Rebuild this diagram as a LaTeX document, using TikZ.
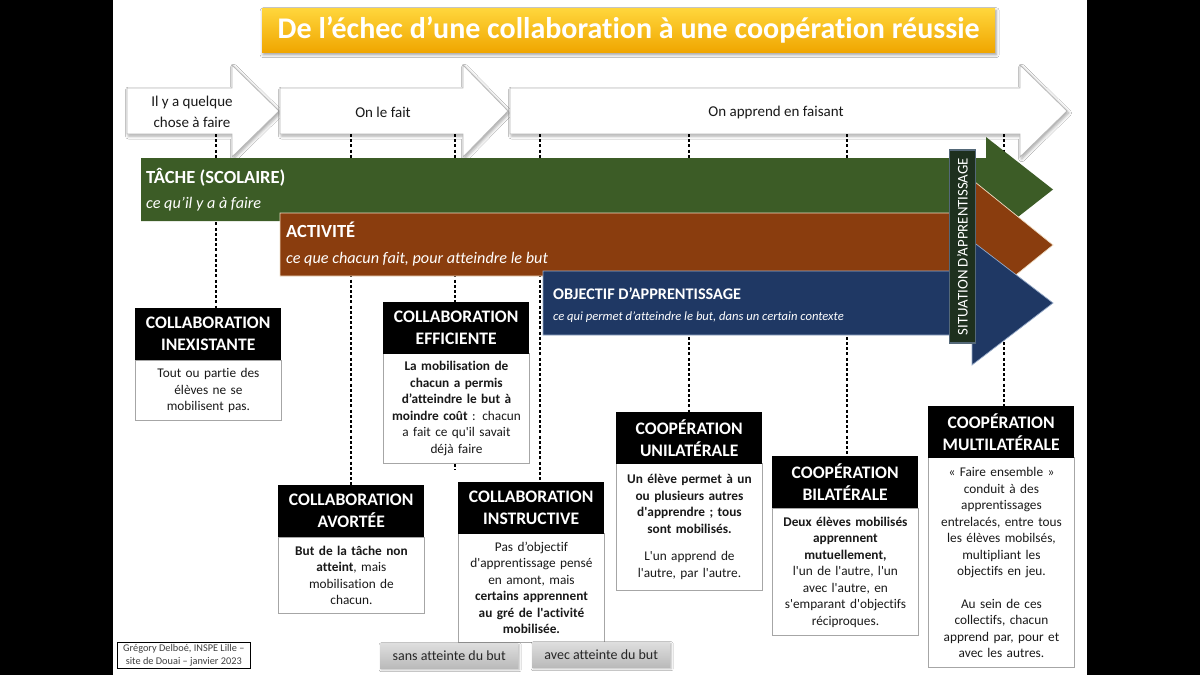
\documentclass[tikz,border=0pt]{standalone}
\usepackage{fontspec}
\setmainfont{Carlito}[Ligatures={TeX,NoCommon}]
\usetikzlibrary{shadows.blur}
\newcommand{\sq}{\textquotesingle}
\definecolor{tgreen}{RGB}{60,92,38}
\definecolor{tbrown}{RGB}{138,61,14}
\definecolor{tblue}{RGB}{31,56,100}
\definecolor{brownedge}{RGB}{240,222,196}
\definecolor{blueedge}{RGB}{150,170,200}
\definecolor{sitfill}{RGB}{30,48,30}
\definecolor{sitedge}{RGB}{84,104,120}
\definecolor{goldtop}{RGB}{255,214,60}
\definecolor{goldbot}{RGB}{240,166,0}
\definecolor{bodytext}{RGB}{25,25,25}
\tikzset{
  whitearrow/.style={fill=white, draw=black!28, line width=0.8pt,
    blur shadow={shadow xshift=1.5pt, shadow yshift=-2pt, shadow blur radius=3pt, shadow opacity=35}},
  arrowtext/.style={font=\fontsize{15}{21}\selectfont, align=center, text=black!90, inner sep=0},
  dashline/.style={draw=black, line width=1.1pt, dash pattern=on 3pt off 2.2pt},
  bartitle/.style={anchor=base west, inner sep=0, text=white, font=\bfseries\fontsize{18.5}{21}\selectfont},
  barsub/.style={anchor=base west, inner sep=0, text=white, font=\itshape\fontsize{16.2}{19}\selectfont},
  hdr/.style={anchor=north west, fill=black, text=white, font=\bfseries\fontsize{17.6}{22}\selectfont,
    align=center, minimum width=146, minimum height=52, inner sep=0},
  bodybox/.style={anchor=north west, fill=white, draw=black!35, line width=0.9pt, text=bodytext,
    font=\fontsize{13.3}{16.5}\selectfont, align=center, minimum width=146, text width=144, inner sep=0},
  graylab/.style={anchor=north west, minimum width=138, minimum height=25, inner sep=0,
    top color=black!13, bottom color=black!27, font=\fontsize{14}{16}\selectfont, text=black!85,
    blur shadow={shadow xshift=1pt, shadow yshift=-1.5pt, shadow opacity=30, shadow blur radius=2pt}}
}
\begin{document}
\begin{tikzpicture}[x=1pt,y=-1pt]
\useasboundingbox (0,0) rectangle (1200,675);
\fill[black] (0,0) rectangle (1200,675);
\fill[white] (113,0) rectangle (1087,675);

% title
\node[anchor=north west, top color=goldtop, bottom color=goldbot, minimum width=733, minimum height=44,
  inner sep=0, text=white, font=\bfseries\fontsize{30}{32}\selectfont,
  blur shadow={shadow xshift=1pt, shadow yshift=-2.5pt, shadow opacity=40, shadow blur radius=3pt}]
  (title) at (262,8) {De l’échec d’une collaboration à une coopération réussie};

% white phase arrows
\path[whitearrow] (127,88) -- (232,88) -- (232,65) -- (279,111) -- (232,157) -- (232,134) -- (127,134) -- cycle;
\path[whitearrow] (280,88) -- (463,88) -- (463,65) -- (508,111) -- (463,157) -- (463,134) -- (280,134) -- cycle;
\path[whitearrow] (510,88) -- (1020,88) -- (1020,65) -- (1067,111) -- (1020,157) -- (1020,134) -- (510,134) -- cycle;
\node[arrowtext] (a1t) at (192,112) {Il y a quelque\\chose à faire};
\node[arrowtext] (a2t) at (383,112) {On le fait};
\node[arrowtext] (a3t) at (776,112) {On apprend en faisant};

% boxes
\node[bodybox, minimum height=60] (inexB) at (135,360) {Tout ou partie des\\élèves ne se\\mobilisent pas.};
\node[hdr] (inexH) at (135,308) {COLLABORATION\\INEXISTANTE};

\node[bodybox, minimum height=110] (effiB) at (383,353) {\textbf{La mobilisation de}\\\textbf{chacun a permis}\\\textbf{d’atteindre le but à}\\\textbf{moindre coût} : chacun\\a fait ce qu\sq il savait\\déjà faire};
\node[hdr] (effiH) at (383,302) {COLLABORATION\\EFFICIENTE};

\node[bodybox, minimum height=76] (avorB) at (278,537) {\textbf{But de la tâche non}\\\textbf{atteint}, mais\\mobilisation de\\chacun.};
\node[hdr] (avorH) at (278,485) {COLLABORATION\\AVORTÉE};

\node[bodybox, minimum height=109] (instrB) at (458,533) {Pas d’objectif\\d\sq apprentissage pensé\\en amont, mais\\\textbf{certains apprennent}\\\textbf{au gré de l\sq activité}\\\textbf{mobilisée.}};
\node[hdr] (instrH) at (458,482) {COLLABORATION\\INSTRUCTIVE};

\node[bodybox, minimum height=127] (uniB) at (616,463) {\textbf{Un élève permet à un}\\\textbf{ou plusieurs autres}\\\textbf{d\sq apprendre ; tous}\\\textbf{sont mobilisés.}\\[11pt]L\sq un apprend de\\l\sq autre, par l\sq autre.};
\node[hdr] (uniH) at (616,412) {COOPÉRATION\\UNILATÉRALE};

\node[bodybox, minimum height=127] (biB) at (772,508) {\textbf{Deux élèves mobilisés}\\\textbf{apprennent}\\\textbf{mutuellement,}\\l\sq un de l\sq autre, l\sq un\\avec l\sq autre, en\\s\sq emparant d\sq objectifs\\réciproques.};
\node[hdr] (biH) at (772,456) {COOPÉRATION\\BILATÉRALE};

\node[bodybox, minimum height=210] (multiB) at (928,457) {« Faire ensemble »\\conduit à des\\apprentissages\\entrelacés, entre tous\\les élèves mobilsés,\\multipliant les\\objectifs en jeu.\\[16pt]Au sein de ces\\collectifs, chacun\\apprend par, pour et\\avec les autres.};
\node[hdr] (multiH) at (928,406) {COOPÉRATION\\MULTILATÉRALE};

% dashed connectors
\coordinate (c1) at (216,134);
\coordinate (c2) at (351,134);
\coordinate (c3) at (455,134);
\coordinate (c3e) at (455,470);
\coordinate (c4) at (540,134);
\coordinate (c5) at (689,134);
\coordinate (c6) at (847,134);
\coordinate (c7) at (1004,134);
\draw[dashline] (c1) -- (c1 |- inexH.north);
\draw[dashline] (c2) -- (c2 |- avorH.north);
\draw[dashline] (c3) -- (c3 |- effiH.north);
\draw[dashline] (c3 |- effiB.south) -- (c3e);
\draw[dashline] (c4) -- (c4 |- instrH.north);
\draw[dashline] (c5) -- (c5 |- uniH.north);
\draw[dashline] (c6) -- (c6 |- biH.north);
\draw[dashline] (c7) -- (c7 |- multiH.north);

% bars
\fill[tgreen] (141,158) -- (986,158) -- (986,137) -- (1053,189.5) -- (986,242) -- (986,221) -- (141,221) -- cycle;
\path[fill=tbrown, draw=brownedge, line width=0.7pt] (280,213) -- (975,213) -- (975,182) -- (1053,245) -- (975,308) -- (975,276) -- (280,276) -- cycle;
\path[fill=tblue, draw=blueedge, line width=0.7pt] (543,271) -- (972,271) -- (972,241) -- (1053,303) -- (972,365) -- (972,335) -- (543,335) -- cycle;

\node[bartitle] (tacheT) at (146,183) {TÂCHE (SCOLAIRE)};
\node[barsub] (tacheS) at (146,208) {ce qu’il y a à faire};
\node[bartitle] (actT) at (286,237.5) {ACTIVITÉ};
\node[barsub] (actS) at (286,263) {ce que chacun fait, pour atteindre le but};
\node[bartitle, font=\bfseries\fontsize{16.2}{19}\selectfont] (objT) at (553,299.5) {OBJECTIF D’APPRENTISSAGE};
\node[barsub, font=\itshape\fontsize{12.6}{15}\selectfont] (objS) at (553,320.5) {ce qui permet d’atteindre le but, dans un certain contexte};

\node[draw=sitedge, line width=1.5pt, fill=sitfill, minimum width=193, minimum height=26, rotate=90,
  inner sep=0, text=white, font=\fontsize{14.8}{16}\selectfont] (sit) at (962.5,246.5) {SITUATION D’APPRENTISSAGE};

% bottom labels
\node[graylab] (sans) at (380,643) {sans atteinte du but};
\node[graylab] (avec) at (532,642) {avec atteinte du but};
\node[draw=black, line width=0.6pt, anchor=north west, minimum width=133, minimum height=26, inner sep=0,
  align=center, font=\fontsize{10.3}{12.5}\selectfont, text=black!75] (credit) at (117,642)
  {Grégory Delboé, INSPE Lille –\\site de Douai – janvier 2023};
\end{tikzpicture}
\end{document}
